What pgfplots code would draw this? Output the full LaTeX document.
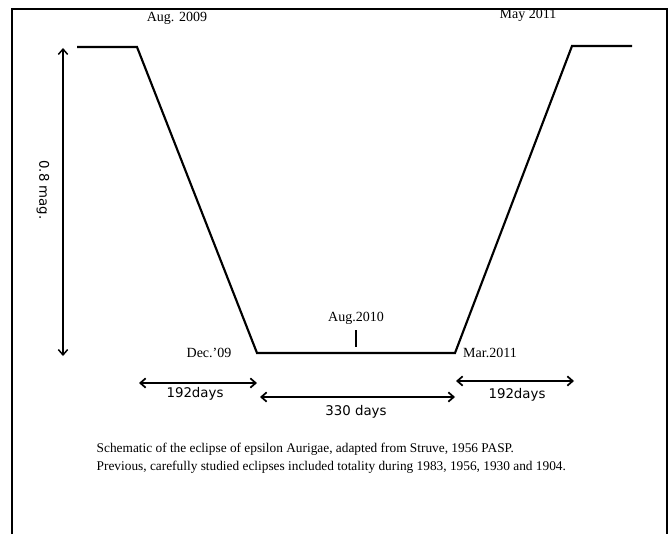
\documentclass[border=0pt]{standalone}
\usepackage{fontspec}
\setmainfont{Liberation Serif}
\newfontfamily\sansf{DejaVu Sans}
\usepackage{pgfplots}
\pgfplotsset{compat=1.18}
\usetikzlibrary{arrows.meta}
\begin{document}
\begin{tikzpicture}
\begin{axis}[scale only axis, width=503.25pt, height=400.5pt,
  xmin=0, xmax=671, ymin=0, ymax=534, y dir=reverse,
  axis lines=none, clip=false]
\path[draw=none] (axis cs:0,0) rectangle (axis cs:671,534);
% frame
\addplot[black, line width=1.4pt, mark=none] coordinates {(12,534) (12,9) (667,9) (667,534)};
% light curve
\addplot[black, line width=1.6pt, mark=none] coordinates {(77,47) (137,47) (257,353) (455,353) (572,46) (632,46)};
% Aug 2010 tick
\addplot[black, line width=0.8pt, mark=none] coordinates {(356,330) (356,347)};
% 0.8 mag arrow
\addplot[black, line width=1.1pt, mark=none, {Straight Barb[length=4pt,width=7pt]}-{Straight Barb[length=4pt,width=7pt]}] coordinates {(63,48) (63,356)};
% day arrows
\addplot[black, line width=1.3pt, mark=none, {Straight Barb[length=4pt,width=7pt]}-{Straight Barb[length=4pt,width=7pt]}] coordinates {(139,383) (257,383)};
\addplot[black, line width=1.3pt, mark=none, {Straight Barb[length=4pt,width=7pt]}-{Straight Barb[length=4pt,width=7pt]}] coordinates {(260,397) (455,397)};
\addplot[black, line width=1.3pt, mark=none, {Straight Barb[length=4pt,width=7pt]}-{Straight Barb[length=4pt,width=7pt]}] coordinates {(456,381) (574,381)};
% labels
\node[font=\fontsize{10.5}{12}\selectfont] at (axis cs:177,18) {Aug. 2009};
\node[font=\fontsize{10.5}{12}\selectfont] at (axis cs:528,15) {May 2011};
\node[font=\fontsize{10.5}{12}\selectfont] at (axis cs:356,318) {Aug.2010};
\node[font=\fontsize{10.5}{12}\selectfont] at (axis cs:209,353) {Dec.'09};
\node[font=\fontsize{10.5}{12}\selectfont] at (axis cs:490,353) {Mar.2011};
\node[font=\sansf\fontsize{10}{12}\selectfont, rotate=-90] at (axis cs:43,190) {0.8 mag.};
\node[font=\sansf\fontsize{10}{12}\selectfont] at (axis cs:195,394) {192days};
\node[font=\sansf\fontsize{10}{12}\selectfont] at (axis cs:356,412) {330 days};
\node[font=\sansf\fontsize{10}{12}\selectfont] at (axis cs:517,395) {192days};
\node[font=\fontsize{10}{13.5}\selectfont, anchor=west, align=left] at (axis cs:92,458) {Schematic of the eclipse of epsilon Aurigae, adapted from Struve, 1956 PASP.\\Previous, carefully studied eclipses included totality during 1983, 1956, 1930 and 1904.};
\end{axis}
\end{tikzpicture}
\end{document}
